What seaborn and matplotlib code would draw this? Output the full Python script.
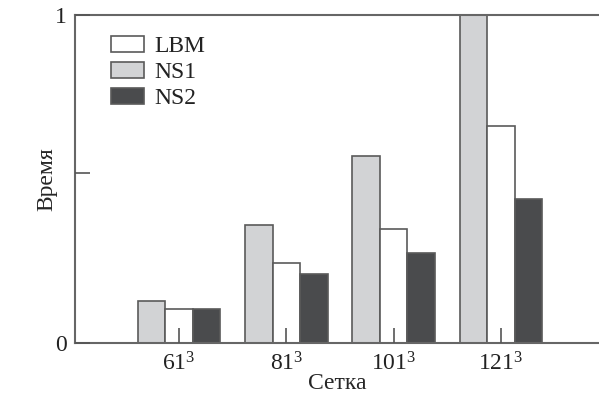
import numpy as np
import pandas as pd
import matplotlib
matplotlib.use("Agg")
import matplotlib.pyplot as plt
import seaborn as sns

grids = ["61", "81", "101", "121"]
methods = ["NS1", "LBM", "NS2"]
ns1 = [0.128, 0.360, 0.571, 1.0]
lbm = [0.105, 0.245, 0.348, 0.662]
ns2 = [0.104, 0.212, 0.275, 0.439]
legend_order = ["LBM", "NS1", "NS2"]

df = pd.DataFrame({
    "grid": grids * 3,
    "method": ["NS1"] * 4 + ["LBM"] * 4 + ["NS2"] * 4,
    "time": ns1 + lbm + ns2,
})

sns.set_style("ticks")
serif = "Liberation Serif"
plt.rcParams["font.family"] = serif
plt.rcParams["font.serif"] = [serif, "DejaVu Serif"]
plt.rcParams["mathtext.fontset"] = "custom"
plt.rcParams["mathtext.rm"] = serif
plt.rcParams["text.color"] = "#222222"

colors = {"NS1": "#d2d3d5", "LBM": "#ffffff", "NS2": "#4a4b4d"}
fs = 17

fig = plt.figure(figsize=(5.99, 3.98), dpi=100)
ax = fig.add_axes([0.1252, 0.138, 0.8748, 0.824])

sns.barplot(data=df, x="grid", y="time", hue="method", hue_order=methods,
            order=grids, palette=colors, width=0.77, edgecolor="#5a5a5a",
            linewidth=1.2, ax=ax, legend=True)
ax.set_axisbelow(False)

ax.set_xlim(-0.969, 3.914)
ax.set_ylim(0, 1)
ax.set_yticks([0, 0.518, 1])
ax.set_yticklabels(["0", "", "1"], family=serif)
ax.set_xticks(range(len(grids)))
ax.set_xticklabels([r"$\mathregular{%s^3}$" % g for g in grids])
ax.tick_params(direction="in", length=11, width=1.2, color="#555555",
               labelsize=fs, labelcolor="#222222", pad=7)
ax.tick_params(axis="y", pad=6)

for s in ["left", "bottom", "top"]:
    ax.spines[s].set_color("#666666")
    ax.spines[s].set_linewidth(1.5)
    ax.spines[s].set_visible(True)
ax.spines["right"].set_visible(False)

ax.set_xlabel("Сетка", fontsize=fs, family=serif, labelpad=-2)
ax.set_ylabel("Время", fontsize=fs, family=serif, labelpad=-2)

handles, labels = ax.get_legend_handles_labels()
hmap = dict(zip(labels, handles))
ax.legend([hmap[k] for k in legend_order], legend_order, loc="upper left",
          bbox_to_anchor=(0.042, 0.98), frameon=False,
          prop={"family": serif, "size": fs},
          handlelength=1.4, handleheight=0.68, labelspacing=0.19,
          handletextpad=0.42, borderaxespad=0.2)

fig.savefig("out.png", dpi=100)
